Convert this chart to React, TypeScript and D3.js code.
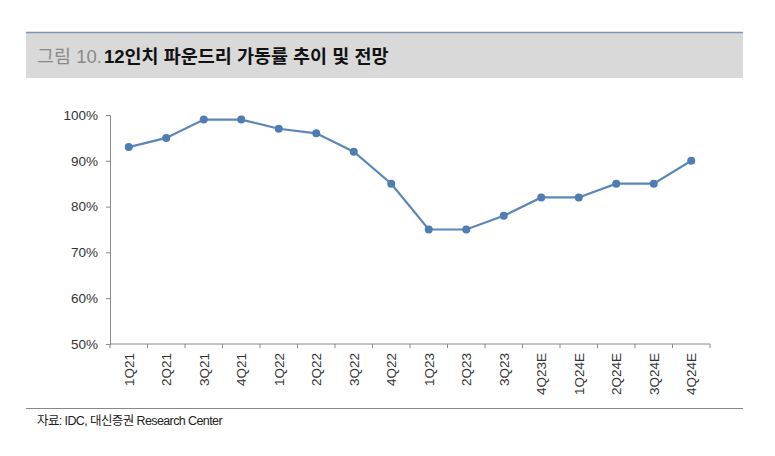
import { useRef, useEffect } from 'react';
import * as d3 from 'd3';

const categories = [
  '1Q21', '2Q21', '3Q21', '4Q21', '1Q22', '2Q22', '3Q22', '4Q22',
  '1Q23', '2Q23', '3Q23', '4Q23E', '1Q24E', '2Q24E', '3Q24E', '4Q24E'
];
const utilization = [93, 95, 99, 99, 97, 96, 92, 85, 75, 75, 78, 82, 82, 85, 85, 90];
const yTicks = [50, 60, 70, 80, 90, 100];

const W = 775;
const H = 456;
const font = '"Liberation Sans", "Noto Sans CJK KR", sans-serif';

export default function App() {
  const svgRef = useRef<SVGSVGElement>(null);

  useEffect(() => {
    if (!svgRef.current) return;
    const svg = d3.select(svgRef.current);
    svg.selectAll('*').remove();

    // header band
    svg.append('rect')
      .attr('x', 26).attr('y', 32).attr('width', 717).attr('height', 46)
      .attr('fill', '#d9d9d9');
    svg.append('line')
      .attr('x1', 26).attr('x2', 743).attr('y1', 32.5).attr('y2', 32.5)
      .attr('stroke', '#7d96ad').attr('stroke-width', 1.5);

    const title = svg.append('text')
      .attr('x', 37).attr('y', 63)
      .attr('font-family', font).attr('font-size', 18.5);
    title.append('tspan').attr('fill', '#8a8a8a').text('그림 10.');
    title.append('tspan').attr('fill', '#111').attr('font-weight', 'bold').attr('dx', 2)
      .text('12인치 파운드리 가동률 추이 및 전망');

    const margin = { top: 115, left: 110, right: 65, bottom: 112 };
    const x = d3.scaleBand<string>().domain(categories)
      .range([margin.left, W - margin.right]);
    const y = d3.scaleLinear().domain([50, 100])
      .range([H - margin.bottom, margin.top]);

    // y axis
    const yAxis = svg.append('g')
      .attr('transform', `translate(${margin.left},0)`)
      .call(d3.axisLeft(y).tickValues(yTicks).tickSize(4).tickFormat(d => `${d}%`));
    yAxis.select('.domain').attr('stroke', '#888');
    yAxis.selectAll('.tick line').attr('stroke', '#888');
    yAxis.selectAll('.tick text')
      .attr('font-family', font).attr('font-size', 13.5).attr('fill', '#333').attr('x', -12);

    // x axis
    const x0 = y(50);
    svg.append('line')
      .attr('x1', margin.left).attr('x2', W - margin.right)
      .attr('y1', x0).attr('y2', x0).attr('stroke', '#888');
    const bounds = categories.map(c => x(c)!).concat([W - margin.right]);
    svg.selectAll('.xtick').data(bounds).enter().append('line')
      .attr('x1', d => d).attr('x2', d => d)
      .attr('y1', x0).attr('y2', x0 + 4).attr('stroke', '#888');
    svg.selectAll('.xlabel').data(categories).enter().append('text')
      .attr('transform', d => `translate(${x(d)! + x.bandwidth() / 2 + 5},${x0 + 9}) rotate(-90)`)
      .attr('text-anchor', 'end')
      .attr('font-family', font).attr('font-size', 13.5).attr('fill', '#333')
      .text(d => d);

    // line + markers
    const pts = categories.map((c, i) => ({ c, v: utilization[i] }));
    const line = d3.line<{ c: string; v: number }>()
      .x(d => x(d.c)! + x.bandwidth() / 2)
      .y(d => y(d.v));
    svg.append('path').datum(pts)
      .attr('fill', 'none').attr('stroke', '#5b86b8').attr('stroke-width', 2.2)
      .attr('d', line);
    svg.selectAll('.dot').data(pts).enter().append('circle')
      .attr('cx', d => x(d.c)! + x.bandwidth() / 2)
      .attr('cy', d => y(d.v))
      .attr('r', 4).attr('fill', '#4f7db3');

    // footer
    svg.append('line')
      .attr('x1', 26).attr('x2', 743).attr('y1', 408.5).attr('y2', 408.5)
      .attr('stroke', '#888');
    svg.append('text')
      .attr('x', 37).attr('y', 425)
      .attr('font-family', font).attr('font-size', 12.5).attr('fill', '#222')
      .attr('letter-spacing', -0.6)
      .text('자료: IDC, 대신증권 Research Center');
  }, []);

  return (
    <svg ref={svgRef} width={W} height={H}
      style={{ position: 'absolute', left: 0, top: 0, background: '#fff' }} />
  );
}
